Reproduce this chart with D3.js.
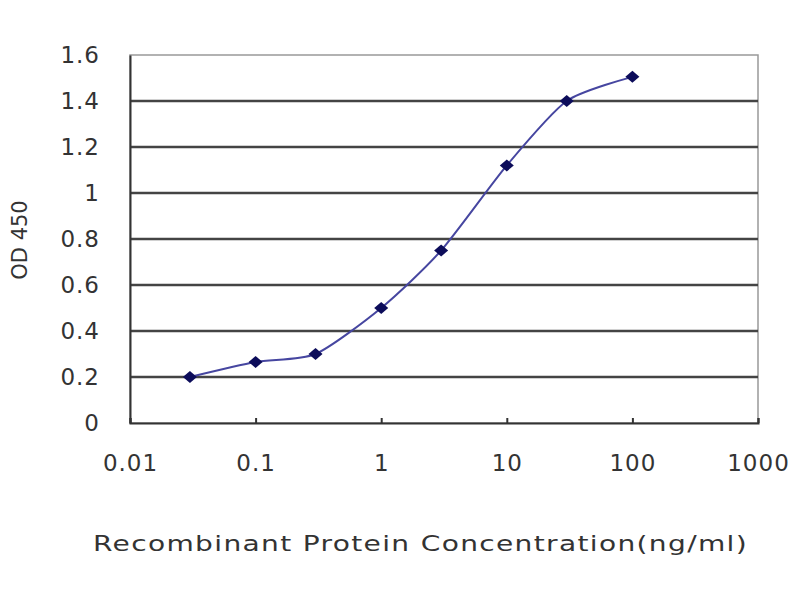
<!DOCTYPE html>
<html>
<head>
<meta charset="utf-8">
<script src="https://cdn.jsdelivr.net/npm/d3@7"></script>
<style>
  body { margin: 0; background: #fff; }
  text { font-family: "DejaVu Sans", "Liberation Sans", Arial, sans-serif; fill: #333; }
</style>
</head>
<body>
<div id="chart"></div>
<script>
// concentrations (ng/ml) and OD readings
const concentrations = [0.03, 0.1, 0.3, 1, 3, 10, 30, 100];
const odValues = [0.20, 0.265, 0.30, 0.50, 0.75, 1.12, 1.40, 1.505];
const xTicks = [0.01, 0.1, 1, 10, 100, 1000];
const yTicks = [0, 0.2, 0.4, 0.6, 0.8, 1, 1.2, 1.4, 1.6];

const margin = { top: 55, right: 42, bottom: 177, left: 130 },
      width = 800 - margin.left - margin.right,
      height = 600 - margin.top - margin.bottom;

const svg = d3.select("#chart")
              .append("svg")
              .attr("width", 800)
              .attr("height", 600);

const g = svg.append("g")
             .attr("transform", `translate(${margin.left},${margin.top})`);

const x = d3.scaleLog()
            .domain([0.01, 1000])
            .range([0, width]);

const y = d3.scaleLinear()
            .domain([0, 1.6])
            .range([height, 0]);

// plot frame
g.append("rect")
 .attr("width", width)
 .attr("height", height)
 .attr("fill", "#fff")
 .attr("stroke", "#999")
 .attr("stroke-width", 1.5);

// horizontal gridlines
g.selectAll(".grid")
 .data(yTicks.filter(d => d > 0 && d < 1.6))
 .enter().append("line")
 .attr("x1", 0)
 .attr("x2", width)
 .attr("y1", d => y(d))
 .attr("y2", d => y(d))
 .attr("stroke", "#444")
 .attr("stroke-width", 2.5);

// y axis
const yAxis = g.append("g")
               .call(d3.axisLeft(y).tickValues(yTicks).tickSize(0).tickPadding(30)
                     .tickFormat(d => d3.format("")(+d.toFixed(1))));
yAxis.select(".domain").attr("stroke", "#333").attr("stroke-width", 2);
yAxis.selectAll("text")
     .style("font-size", "23px")
     .style("letter-spacing", "1px")
     .attr("fill", "#333");

// x axis
const xAxis = g.append("g")
               .attr("transform", `translate(0,${height})`)
               .call(d3.axisBottom(x).tickValues(xTicks).tickSize(-5).tickPadding(32)
                     .tickFormat(d => d3.format("")(d)));
xAxis.select(".domain").attr("stroke", "#333").attr("stroke-width", 2);
xAxis.selectAll(".tick line").attr("stroke", "#333").attr("stroke-width", 2);
xAxis.selectAll("text")
     .style("font-size", "23px")
     .style("letter-spacing", "1px")
     .attr("fill", "#333");

// curve
const points = concentrations.map((c, i) => ({ c: c, v: odValues[i] }));

const line = d3.line()
               .x(d => x(d.c))
               .y(d => y(d.v))
               .curve(d3.curveCardinal.tension(0.3));

g.append("path")
 .datum(points)
 .attr("d", line)
 .attr("fill", "none")
 .attr("stroke", "#4646a0")
 .attr("stroke-width", 2);

// diamond markers
g.selectAll(".pt")
 .data(points)
 .enter().append("path")
 .attr("transform", d => `translate(${x(d.c)},${y(d.v)})`)
 .attr("d", "M0,-6L7,0L0,6L-7,0Z")
 .attr("fill", "#0c0c5a");

// axis titles
svg.append("text")
   .attr("x", 93)
   .attr("y", 551)
   .attr("textLength", 655)
   .attr("lengthAdjust", "spacingAndGlyphs")
   .style("font-size", "21px")
   .style("letter-spacing", "1px")
   .text("Recombinant Protein Concentration(ng/ml)");

svg.append("text")
   .attr("transform", "rotate(-90)")
   .attr("x", -240)
   .attr("y", 27)
   .attr("text-anchor", "middle")
   .style("font-size", "21px")
   .text("OD 450");
</script>
</body>
</html>
